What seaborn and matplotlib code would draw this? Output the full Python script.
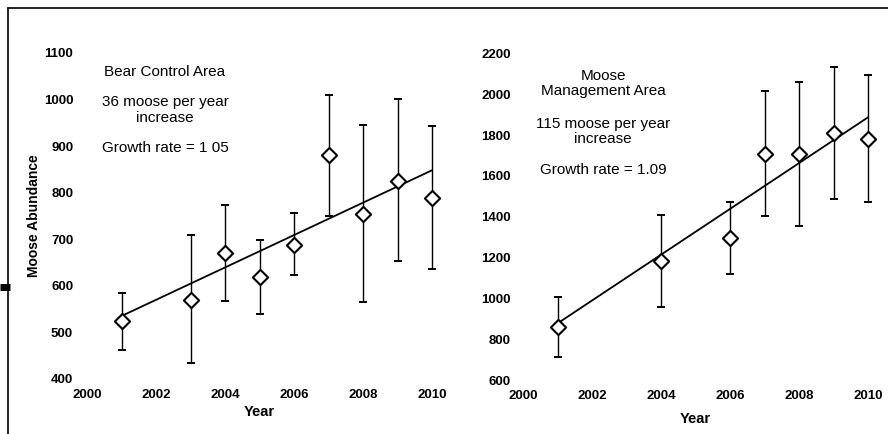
import numpy as np
import matplotlib
matplotlib.use("Agg")
import matplotlib.pyplot as plt
from matplotlib.lines import Line2D
import seaborn as sns

# Bear Control Area (left panel)
bear_years = [2001, 2003, 2004, 2005, 2006, 2007, 2008, 2009, 2010]
bear_est = [524, 570, 670, 618, 688, 880, 755, 826, 789]
bear_low = [463, 434, 568, 540, 623, 749, 565, 653, 636]
bear_high = [585, 708, 774, 698, 756, 1009, 945, 1001, 943]
bear_trend_years = [2001, 2010]
bear_trend = [535, 848]

# Moose Management Area (right panel)
mma_years = [2001, 2004, 2006, 2007, 2008, 2009, 2010]
mma_est = [861, 1183, 1295, 1709, 1709, 1808, 1782]
mma_low = [714, 956, 1122, 1403, 1354, 1485, 1472]
mma_high = [1008, 1411, 1472, 2017, 2061, 2131, 2096]
mma_trend_years = [2001, 2010]
mma_trend = [878, 1887]

x_ticks = [2000, 2002, 2004, 2006, 2008, 2010]
bear_yticks = [400, 500, 600, 700, 800, 900, 1000, 1100]
mma_yticks = [600, 800, 1000, 1200, 1400, 1600, 1800, 2000, 2200]

sns.set_style("white")
plt.rcParams["font.family"] = ["Liberation Sans", "DejaVu Sans"]
plt.rcParams.update({"text.color": "black", "axes.labelcolor": "black",
                     "xtick.color": "black", "ytick.color": "black"})

fig = plt.figure(figsize=(8.88, 4.34), dpi=100)
ax1 = fig.add_axes([0.098, 0.127, 0.3885, 0.751])
ax2 = fig.add_axes([0.589, 0.124, 0.3885, 0.753])


def draw_panel(ax, years, est, low, high, t_years, trend, yticks, ypad):
    est = np.array(est)
    yerr = [est - np.array(low), np.array(high) - est]
    ax.errorbar(years, est, yerr=yerr, fmt="none", ecolor="black",
                elinewidth=1.0, capsize=3, capthick=1.4, clip_on=False, zorder=2)
    sns.lineplot(x=t_years, y=trend, ax=ax, color="black", linewidth=1.3,
                 zorder=3, clip_on=False)
    sns.scatterplot(x=years, y=est, ax=ax, marker="D", s=60, color="white",
                    edgecolor="black", linewidth=1.5, zorder=4, clip_on=False)
    ax.set_xlim(2000, 2010)
    ax.set_ylim(yticks[0], yticks[-1])
    ax.set_xticks(x_ticks)
    ax.set_yticks(yticks)
    for s in ax.spines.values():
        s.set_visible(False)
    ax.tick_params(axis="x", length=0, pad=7, labelsize=9.5)
    ax.tick_params(axis="y", length=0, pad=ypad, labelsize=9.5)
    for lab in ax.get_xticklabels() + ax.get_yticklabels():
        lab.set_fontweight("bold")
    ax.set_xlabel("Year", fontsize=10.5, fontweight="bold", labelpad=3)


draw_panel(ax1, bear_years, bear_est, bear_low, bear_high,
           bear_trend_years, bear_trend, bear_yticks, 10)
draw_panel(ax2, mma_years, mma_est, mma_low, mma_high,
           mma_trend_years, mma_trend, mma_yticks, 9)

ax1.set_ylabel("Moose Abundance", fontsize=10, fontweight="bold", labelpad=2)
ax2.set_ylabel("")
ax2.xaxis.labelpad = 7

txt = dict(ha="center", va="center", fontsize=11, linespacing=1.15)
ax1.text(2002.26, 1059, "Bear Control Area", **txt)
ax1.text(2002.26, 977, "36 moose per year\nincrease", **txt)
ax1.text(2002.26, 895, "Growth rate = 1 05", **txt)
ax2.text(2002.32, 2053, "Moose\nManagement Area", **txt)
ax2.text(2002.32, 1818, "115 moose per year\nincrease", **txt)
ax2.text(2002.32, 1631, "Growth rate = 1.09", **txt)

# scanned page frame
fig.add_artist(Line2D([8 / 888, 1.0], [1 - 8 / 434, 1 - 8 / 434],
                      transform=fig.transFigure, color="black", linewidth=1.2))
fig.add_artist(Line2D([8 / 888, 8 / 888], [0.0, 1 - 8 / 434],
                      transform=fig.transFigure, color="black", linewidth=1.2))
fig.add_artist(Line2D([0.0, 10 / 888], [1 - 287 / 434, 1 - 287 / 434],
                      transform=fig.transFigure, color="black", linewidth=5,
                      solid_capstyle="butt"))

fig.savefig("out.png", dpi=100)
